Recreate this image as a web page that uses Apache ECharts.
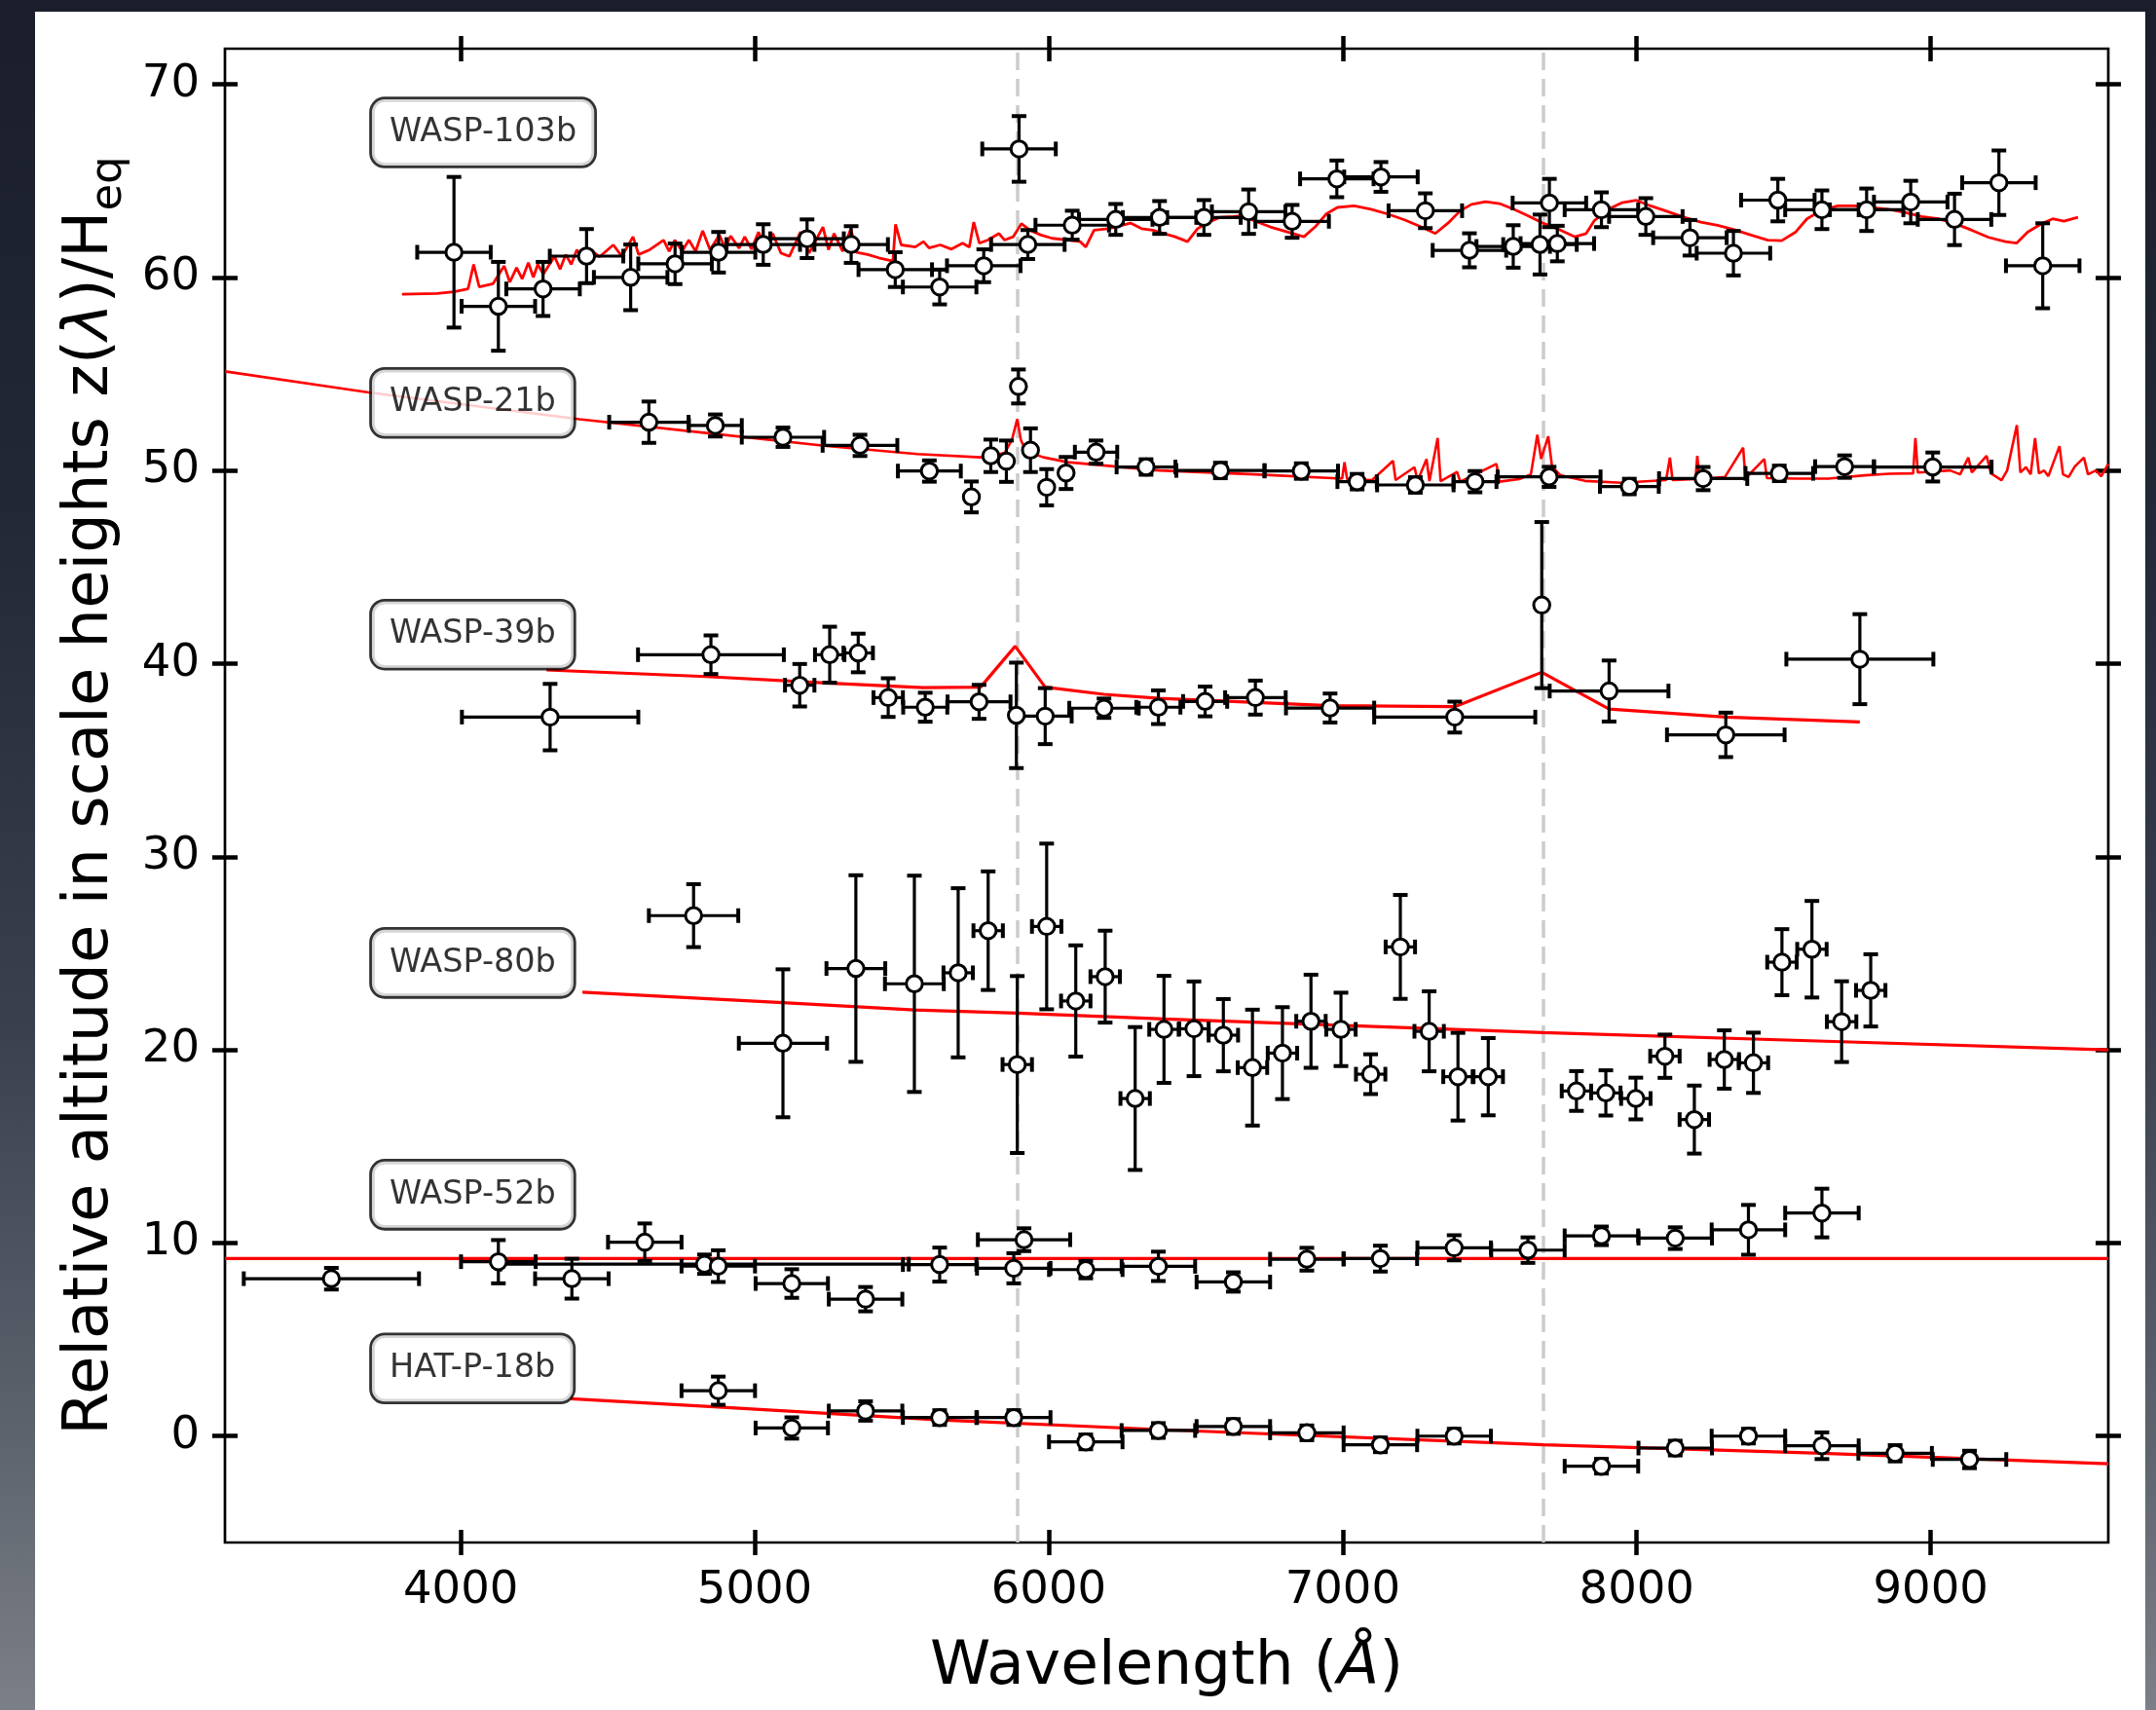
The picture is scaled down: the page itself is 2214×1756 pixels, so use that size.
<!DOCTYPE html>
<html>
<head>
<meta charset="utf-8">
<script src="https://cdn.jsdelivr.net/npm/echarts@6/dist/echarts.min.js"></script>
<style>
  html, body { margin: 0; padding: 0; }
  body {
    width: 2214px; height: 1756px; overflow: hidden; position: relative;
    background: linear-gradient(to bottom, #1a1e2a 0%, #222835 30%, #3a404d 60%, #5f656f 85%, #7b7f87 100%);
  }
  #chart { position: absolute; left: 36px; top: 12px; width: 2167px; height: 1744px; background: #ffffff; }
</style>
</head>
<body>
<div id="chart"></div>
<script>
// ---------------- data ----------------
const xTicks = [4000, 5000, 6000, 7000, 8000, 9000];
const yTicks = [0, 10, 20, 30, 40, 50, 60, 70];
const xRange = [3198, 9604];
const yRange = [-5.51, 71.84];
const featureLines = [5893, 7682];            // Na D and K lines (Angstrom)

const planetNames = ['WASP-103b', 'WASP-21b', 'WASP-39b', 'WASP-80b', 'WASP-52b', 'HAT-P-18b'];
const labelX = 3698;
const labelY = [67.5, 53.5, 41.5, 24.5, 12.5, 3.5];

// points: [wavelength, value, xerr, yerr]
const wasp103b = [
  [3977,61.3,125,3.9],[4128,58.5,125,2.3],[4280,59.4,125,1.4],[4428,61.1,125,1.4],[4578,60.0,125,1.7],
  [4729,60.7,125,1.05],[4877,61.3,125,1.05],[5029,61.7,125,1.05],[5178,62.0,125,1.0],[5328,61.7,125,0.95],
  [5478,60.4,125,0.9],[5629,59.5,125,0.9],[5779,60.6,125,0.85],[5899,66.65,125,1.7],[5929,61.7,125,0.75],
  [6080,62.7,125,0.75],[6228,63.0,125,0.8],[6377,63.1,125,0.85],[6528,63.1,125,0.9],[6680,63.4,125,1.15],
  [6828,62.9,125,0.85],[6980,65.1,125,0.95],[7130,65.2,125,0.77],[7281,63.45,125,0.9],[7431,61.4,125,0.88],
  [7580,61.6,125,1.1],[7671,61.7,125,1.55],[7703,63.85,125,1.25],[7730,61.75,125,0.92],[7880,63.5,125,0.9],
  [8031,63.15,125,0.95],[8181,62.05,125,0.92],[8329,61.25,125,1.15],[8480,64.0,125,1.1],[8630,63.5,125,1.0],
  [8782,63.5,125,1.1],[8932,63.9,125,1.1],[9081,63.0,125,1.33],[9232,64.9,125,1.67],[9381,60.6,125,2.2]
];
const wasp21b = [
  [4640,52.5,135,1.07],[4866,52.33,90,0.57],[5096,51.72,140,0.5],[5358,51.3,127,0.55],[5594,49.97,107,0.55],
  [5737,48.63,0,0.8],[5803,50.76,0,0.84],[5856,50.48,0,1.07],[5897,54.35,0,0.88],[5938,51.05,0,1.13],
  [5993,49.13,0,0.94],[6059,49.87,0,0.83],[6161,50.95,72,0.6],[6331,50.18,100,0.4],[6584,50.0,150,0.4],
  [6859,49.97,125,0.4],[7049,49.42,67,0.4],[7247,49.25,130,0.4],[7450,49.42,73,0.55],[7702,49.67,175,0.52],
  [7975,49.17,100,0.4],[8226,49.58,150,0.6],[8485,49.85,115,0.4],[8707,50.2,100,0.58],[9007,50.18,200,0.75]
];
const wasp39b = [
  [4304,37.23,300,1.72],[4851,40.46,248,1.0],[5153,38.88,50,1.1],[5255,40.46,50,1.45],[5352,40.55,50,1.0],
  [5454,38.24,50,1.0],[5580,37.74,75,0.75],[5763,38.02,107,0.88],[5890,37.32,0,2.73],[5988,37.28,90,1.45],
  [6188,37.69,118,0.5],[6373,37.74,75,0.87],[6532,38.04,75,0.77],[6703,38.24,103,0.88],[6957,37.7,150,0.75],
  [7381,37.23,274,0.8],[7677,43.03,0,4.3],[7906,38.58,202,1.58],[8303,36.31,200,1.15],[8759,40.23,250,2.33]
];
const wasp80b = [
  [4792,26.95,152,1.63],[5096,20.34,150,3.83],[5344,24.21,100,4.83],[5543,23.42,100,5.6],[5692,23.99,50,4.38],
  [5794,26.17,50,3.07],[5893,19.24,50,4.58],[5993,26.39,50,4.29],[6092,22.53,50,2.88],[6192,23.79,50,2.38],
  [6294,17.48,50,3.7],[6392,21.06,50,2.77],[6494,21.09,50,2.45],[6594,20.76,50,1.87],[6693,19.08,50,3.0],
  [6795,19.83,50,2.38],[6892,21.48,50,2.41],[6994,21.06,50,1.9],[7095,18.74,50,1.03],[7196,25.33,50,2.69],
  [7294,20.96,50,2.07],[7392,18.61,50,2.27],[7495,18.61,50,2.0],[7795,17.87,50,1.03],[7895,17.77,50,1.17],
  [7997,17.48,50,1.08],[8096,19.67,50,1.12],[8196,16.39,50,1.76],[8298,19.5,50,1.51],[8397,19.33,50,1.56],
  [8494,24.54,50,1.71],[8596,25.21,50,2.5],[8697,21.46,50,2.09],[8796,23.08,50,1.87]
];
const wasp52b = [
  [3560,8.15,298,0.56],[4128,9.03,127,1.12],[4378,8.15,125,1.03],[4626,10.04,125,0.97],[4829,8.9,695,0.5],
  [4876,8.8,125,0.82],[5126,7.9,123,0.74],[5377,7.09,125,0.63],[5629,8.88,125,0.88],[5881,8.69,125,0.78],
  [5916,10.17,157,0.59],[6126,8.62,125,0.45],[6373,8.79,125,0.76],[6628,7.98,125,0.5],[6878,9.16,125,0.59],
  [7128,9.19,125,0.67],[7379,9.75,125,0.65],[7630,9.63,125,0.66],[7880,10.37,125,0.48],[8131,10.25,125,0.56],
  [8380,10.68,125,1.29],[8630,11.55,125,1.26]
];
const hatp18b = [
  [4876,2.35,125,0.73],[5126,0.42,123,0.55],[5377,1.3,125,0.5],[5629,0.96,125,0.38],[5881,0.96,125,0.38],
  [6126,-0.3,125,0.38],[6373,0.29,125,0.38],[6628,0.5,125,0.38],[6878,0.17,125,0.38],[7128,-0.45,125,0.38],
  [7379,0.0,125,0.38],[7880,-1.56,125,0.38],[8131,-0.62,125,0.38],[8380,0.0,125,0.38],[8630,-0.5,125,0.69],
  [8879,-0.89,125,0.42],[9132,-1.21,125,0.45]
];

// model curves: [wavelength, value]
const model103b = [
  [3800,59.13],[3920,59.16],[3977,59.25],[4025,59.41],[4044,60.67],[4063,59.5],[4110,59.67],[4148,60.59],[4167,59.75],
  [4190,60.5],[4209,59.92],[4230,60.76],[4247,60.0],[4262,60.67],[4281,60.17],[4319,61.09],[4338,60.42],[4357,61.18],
  [4376,60.67],[4395,61.43],[4414,60.93],[4443,61.43],[4472,61.06],[4519,61.68],[4548,61.09],[4586,62.1],[4605,61.18],
  [4643,61.43],[4690,61.93],[4709,61.35],[4728,61.93],[4753,61.35],[4776,61.93],[4799,61.35],[4823,62.41],[4848,61.43],
  [4880,62.19],[4899,61.51],[4918,62.14],[4947,61.51],[4966,62.1],[4989,61.46],[5013,62.35],[5038,61.51],[5061,62.27],
  [5089,61.26],[5118,61.09],[5156,62.35],[5185,61.26],[5232,62.61],[5251,61.43],[5270,62.27],[5299,61.35],[5327,62.52],
  [5346,61.3],[5384,61.18],[5422,61.01],[5470,60.84],[5479,62.74],[5498,61.68],[5546,61.57],[5574,61.85],[5593,61.52],
  [5631,61.68],[5669,61.46],[5707,61.77],[5730,61.57],[5745,62.86],[5764,61.77],[5793,61.93],[5831,62.27],[5850,61.93],
  [5879,62.1],[5907,62.78],[5936,62.44],[5974,62.19],[6012,62.02],[6069,61.93],[6107,61.85],[6126,61.57],[6154,62.44],
  [6202,62.52],[6249,62.69],[6278,62.81],[6316,62.52],[6354,62.44],[6392,62.27],[6430,62.1],[6472,61.85],[6506,62.52],
  [6544,62.86],[6582,63.11],[6629,63.15],[6660,63.2],[6697,62.94],[6754,62.61],[6811,62.35],[6868,62.1],[6906,62.61],
  [6944,63.28],[6982,63.62],[7039,63.7],[7096,63.53],[7153,63.28],[7210,62.98],[7267,62.61],[7315,62.27],[7362,62.86],
  [7400,63.45],[7438,63.78],[7486,63.92],[7533,63.82],[7581,63.53],[7628,63.2],[7685,62.78],[7742,62.44],[7790,62.1],
  [7828,62.27],[7856,62.94],[7904,63.53],[7951,63.87],[7999,63.99],[8047,63.7],[8104,63.41],[8161,63.11],[8218,62.86],
  [8275,62.69],[8332,62.47],[8389,62.19],[8446,61.93],[8493,61.9],[8541,62.35],[8579,63.03],[8626,63.45],[8684,63.7],
  [8741,63.7],[8798,63.62],[8855,63.53],[8912,63.36],[8969,63.15],[9026,63.03],[9083,62.78],[9140,62.44],[9197,62.07],
  [9254,61.85],[9292,61.77],[9330,62.35],[9377,62.78],[9415,63.03],[9453,62.91],[9501,63.11]
];
const model21b = [
  [3198,55.13],[3687,54.04],[4404,52.65],[4835,51.94],[5245,51.27],[5553,50.85],[5768,50.68],[5850,50.9],[5875,51.6],
  [5893,52.66],[5905,51.6],[5922,51.0],[5982,50.68],[6065,50.43],[6376,50.0],[6700,49.8],[6998,49.58],[7006,50.42],
  [7015,49.55],[7100,49.5],[7171,50.5],[7180,49.5],[7244,50.17],[7255,49.48],[7285,50.59],[7295,49.45],[7323,51.68],
  [7333,49.45],[7389,49.92],[7400,49.42],[7523,50.34],[7533,49.42],[7600,49.55],[7640,49.8],[7662,51.85],[7675,50.6],
  [7683,51.0],[7699,51.77],[7712,50.2],[7741,49.75],[7824,49.46],[7948,49.36],[8100,49.5],[8113,50.67],[8122,49.5],
  [8200,49.55],[8206,50.76],[8214,49.55],[8300,49.66],[8362,51.18],[8370,49.6],[8434,50.59],[8443,49.6],[8548,49.58],
  [8652,49.58],[8776,49.75],[8859,49.83],[8940,49.85],[8948,51.68],[8956,49.9],[8983,49.92],[9066,50.0],[9100,49.8],
  [9128,50.67],[9140,49.9],[9190,50.76],[9205,49.85],[9241,49.5],[9260,50.0],[9293,52.35],[9305,49.9],[9324,50.17],
  [9340,49.8],[9355,51.68],[9368,49.85],[9386,50.0],[9400,49.7],[9438,51.26],[9450,49.8],[9469,49.66],[9490,50.2],
  [9521,50.67],[9535,49.8],[9562,50.0],[9580,49.7],[9604,50.34]
];
const model39b = [
  [4292,39.67],[4834,39.33],[5244,39.0],[5573,38.76],[5768,38.78],[5886,40.9],[5988,38.78],[6188,38.41],[6376,38.2],
  [6957,37.82],[7381,37.77],[7677,39.55],[7906,37.65],[8303,37.23],[8759,36.98]
];
const model80b = [
  [4414,22.99],[5096,22.44],[5543,22.07],[5893,21.9],[6392,21.6],[7683,20.89],[8697,20.42],[9604,20.0]
];
const model52b = [[3198,9.19],[9604,9.19]];
const model18b = [
  [4374,1.93],[4876,1.51],[5629,0.84],[6376,0.34],[7683,-0.45],[8630,-0.89],[9604,-1.43]
];

// ---------------- chart ----------------
const allPoints = [].concat(wasp103b, wasp21b, wasp39b, wasp80b, wasp52b, hatp18b);
const models = [
  { data: model103b, w: 2.8 }, { data: model21b, w: 2.6 }, { data: model39b, w: 3.2 },
  { data: model80b, w: 3.2 }, { data: model52b, w: 3.2 }, { data: model18b, w: 3.2 }
];

const FONT = 'DejaVu Sans';
const CAP = 7.5;

function errRender(params, api) {
  const x = api.value(0), y = api.value(1), xe = api.value(2), ye = api.value(3);
  const st = { stroke: '#000', lineWidth: 3.2 };
  const cst = { stroke: '#000', lineWidth: 4 };
  const ch = [];
  if (ye > 0) {
    const t = api.coord([x, y + ye]), b = api.coord([x, y - ye]);
    ch.push({ type: 'line', shape: { x1: t[0], y1: t[1], x2: b[0], y2: b[1] }, style: st });
    ch.push({ type: 'line', shape: { x1: t[0] - CAP, y1: t[1], x2: t[0] + CAP, y2: t[1] }, style: cst });
    ch.push({ type: 'line', shape: { x1: b[0] - CAP, y1: b[1], x2: b[0] + CAP, y2: b[1] }, style: cst });
  }
  if (xe > 0) {
    const l = api.coord([x - xe, y]), r = api.coord([x + xe, y]);
    ch.push({ type: 'line', shape: { x1: l[0], y1: l[1], x2: r[0], y2: r[1] }, style: st });
    ch.push({ type: 'line', shape: { x1: l[0], y1: l[1] - CAP, x2: l[0], y2: l[1] + CAP }, style: cst });
    ch.push({ type: 'line', shape: { x1: r[0], y1: r[1] - CAP, x2: r[0], y2: r[1] + CAP }, style: cst });
  }
  return { type: 'group', children: ch };
}

function tickAxis(kind, position, inside, extra) {
  const isX = kind === 'x';
  return Object.assign({
    type: 'value', position: position,
    min: isX ? xRange[0] : yRange[0], max: isX ? xRange[1] : yRange[1],
    axisLine: { show: false, onZero: false },
    splitLine: { show: false },
    axisTick: { show: true, inside: inside, length: 13, customValues: isX ? xTicks : yTicks,
                lineStyle: { color: '#000', width: 4.5 } },
    axisLabel: { show: false }
  }, extra || {});
}

const series = [];
series.push({
  type: 'line', data: [], z: 1, silent: true,
  markLine: {
    z: 1, silent: true, symbol: ['none', 'none'], label: { show: false }, animation: false,
    lineStyle: { color: '#cccccc', width: 3.5, type: [18, 9] },
    data: featureLines.map(v => ({ xAxis: v }))
  }
});
models.forEach(m => series.push({
  type: 'line', data: m.data, showSymbol: false, symbol: 'none', z: 2, silent: true,
  lineStyle: { color: '#ff0000', width: m.w }, animation: false
}));
series.push({
  type: 'custom', data: allPoints, renderItem: errRender, z: 3, silent: true,
  encode: { x: 0, y: 1 }, animation: false
});
series.push({
  type: 'scatter', data: allPoints.map(p => [p[0], p[1]]), z: 4, silent: true,
  symbol: 'circle', symbolSize: 16.5,
  itemStyle: { color: '#ffffff', borderColor: '#000000', borderWidth: 3, opacity: 1 },
  animation: false
});
series.push({
  type: 'scatter', data: planetNames.map((n, i) => [labelX, labelY[i], n]), z: 6, silent: true,
  symbolSize: 0, animation: false,
  label: {
    show: true, position: 'right', distance: 0,
    formatter: p => p.data[2],
    fontFamily: FONT, fontSize: 33.5, color: '#000', lineHeight: 40,
    backgroundColor: '#ffffff', borderColor: '#000000', borderWidth: 2.8, borderRadius: 13,
    padding: [14, 18, 14, 18]
  }
});

const option = {
  animation: false,
  backgroundColor: '#ffffff',
  grid: { left: 195, right: 38, top: 38, bottom: 172, show: true, borderColor: '#000', borderWidth: 2.7, backgroundColor: 'transparent' },
  xAxis: [
    tickAxis('x', 'bottom', false, {
      axisLabel: { show: true, customValues: xTicks, fontFamily: FONT, fontSize: 46.5, color: '#000', margin: 26,
                   formatter: v => String(v) },
      name: '{t|Wavelength (}{i|Å}{t|)}', nameLocation: 'middle', nameGap: 97,
      nameTextStyle: { rich: {
        t: { fontFamily: FONT, fontSize: 63, color: '#000' },
        i: { fontFamily: FONT, fontSize: 63, fontStyle: 'italic', color: '#000' }
      } }
    }),
    tickAxis('x', 'bottom', true),
    tickAxis('x', 'top', false),
    tickAxis('x', 'top', true)
  ],
  yAxis: [
    tickAxis('y', 'left', false, {
      axisLabel: { show: true, customValues: yTicks, fontFamily: FONT, fontSize: 46.5, color: '#000', margin: 26,
                   formatter: v => String(v) },
      name: '{t|Relative altitude in scale heights z(}{i|λ}{t|)/H}{s|eq}', nameLocation: 'middle', nameGap: 95, nameRotate: 90,
      nameTextStyle: { rich: {
        t: { fontFamily: FONT, fontSize: 64, color: '#000' },
        i: { fontFamily: FONT, fontSize: 64, fontStyle: 'italic', color: '#000' },
        s: { fontFamily: FONT, fontSize: 45, color: '#000', padding: [38, 0, 0, 0] }
      } }
    }),
    tickAxis('y', 'left', true),
    tickAxis('y', 'right', false),
    tickAxis('y', 'right', true)
  ],
  series: series
};

const chart = echarts.init(document.getElementById('chart'), null, { renderer: 'canvas' });
chart.setOption(option);
</script>
</body>
</html>
